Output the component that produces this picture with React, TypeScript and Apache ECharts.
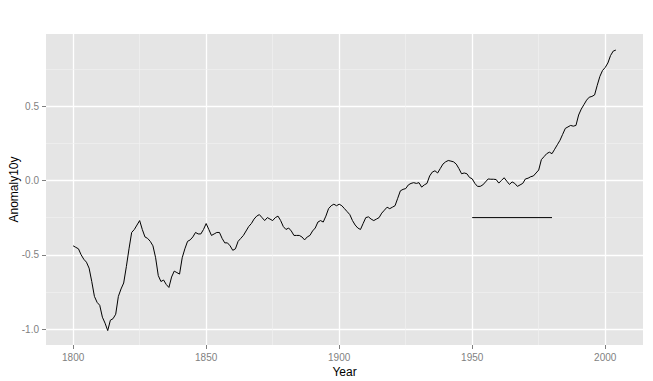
import React, { useEffect, useRef } from "react";
import * as echarts from "echarts";

const startYear = 1800;
const anomaly10y: number[] = [
  -0.44, -0.45, -0.46, -0.5, -0.53, -0.55, -0.59, -0.68, -0.78, -0.82,
  -0.84, -0.92, -0.96, -1.01, -0.94, -0.93, -0.9, -0.78, -0.73, -0.69,
  -0.58, -0.46, -0.35, -0.33, -0.3, -0.27, -0.33, -0.38, -0.39, -0.41,
  -0.44, -0.52, -0.64, -0.68, -0.67, -0.7, -0.72, -0.65, -0.61, -0.62,
  -0.63, -0.52, -0.46, -0.41, -0.4, -0.38, -0.35, -0.36, -0.36, -0.33,
  -0.29, -0.33, -0.37, -0.36, -0.35, -0.35, -0.39, -0.42, -0.42, -0.44,
  -0.47, -0.46, -0.41, -0.39, -0.37, -0.34, -0.31, -0.29, -0.26, -0.24,
  -0.23, -0.25, -0.27, -0.25, -0.26, -0.27, -0.25, -0.24, -0.27, -0.31,
  -0.33, -0.32, -0.34, -0.37, -0.37, -0.37, -0.38, -0.4, -0.38, -0.37,
  -0.34, -0.32, -0.28, -0.27, -0.28, -0.24, -0.19, -0.17, -0.16, -0.17,
  -0.16, -0.17, -0.19, -0.21, -0.23, -0.27, -0.3, -0.32, -0.33, -0.29,
  -0.25, -0.245, -0.26, -0.27, -0.26, -0.25, -0.22, -0.2, -0.18, -0.19,
  -0.18, -0.17, -0.12, -0.07, -0.06, -0.055, -0.03, -0.02, -0.015, -0.02,
  -0.015, -0.045, -0.03, -0.02, 0.03, 0.056, 0.065, 0.05, 0.08, 0.11,
  0.125, 0.134, 0.13, 0.125, 0.11, 0.08, 0.045, 0.05, 0.045, 0.02,
  0.011, -0.02, -0.04, -0.04, -0.03, -0.01, 0.01, 0.008, 0.008, 0.006,
  -0.018, 0.0, 0.018, -0.005, -0.027, -0.01, -0.02, -0.04, -0.03, -0.02,
  0.01, 0.015, 0.025, 0.03, 0.05, 0.07, 0.14, 0.16, 0.18, 0.19,
  0.18, 0.21, 0.24, 0.27, 0.31, 0.35, 0.36, 0.37, 0.365, 0.37,
  0.44, 0.48, 0.51, 0.54, 0.56, 0.565, 0.575, 0.64, 0.7, 0.74,
  0.76, 0.79, 0.84, 0.87, 0.877,
];

const baselineYears = [1950, 1980];
const baselineValue = -0.25;

const xMajorTicks = [1800, 1850, 1900, 1950, 2000];
const xMinorTicks = [1825, 1875, 1925, 1975];
const yMajorTicks = [-1.0, -0.5, 0.0, 0.5];
const yMinorTicks = [-0.75, -0.25, 0.25, 0.75];

const xRange = [1789.8, 2014.2];
const yRange = [-1.107, 0.985];

export default function App() {
  const ref = useRef<HTMLDivElement>(null);
  useEffect(() => {
    if (!ref.current) return;
    const chart = echarts.init(ref.current, undefined, { renderer: "svg" });
    const lineData = anomaly10y.map((v, i) => [startYear + i, v]);
    const baseData = baselineYears.map((y) => [y, baselineValue]);
    const minorLines = [
      ...xMinorTicks.map((x) => ({ xAxis: x })),
      ...yMinorTicks.map((y) => ({ yAxis: y })),
    ];
    const font = "'Liberation Sans', Arial, sans-serif";
    chart.setOption({
      animation: false,
      grid: {
        left: 46,
        top: 34,
        right: 10,
        bottom: 36,
        show: true,
        backgroundColor: "#E5E5E5",
        borderWidth: 0,
        containLabel: false,
        outerBoundsMode: "none",
      },
      xAxis: {
        type: "value",
        min: xRange[0],
        max: xRange[1],
        name: "Year",
        nameLocation: "middle",
        nameGap: 21,
        nameMoveOverlap: false,
        nameTextStyle: { color: "#000", fontSize: 12, fontFamily: font },
        axisLine: { show: false, onZero: false },
        axisTick: {
          show: true,
          length: 4,
          customValues: xMajorTicks,
          lineStyle: { color: "#7F7F7F", width: 1 },
        },
        axisLabel: {
          customValues: xMajorTicks,
          color: "#7F7F7F",
          fontSize: 10,
          fontFamily: font,
          margin: 7,
          formatter: (v: number) => String(Math.round(v)),
        },
        splitLine: { show: true, lineStyle: { color: "#FFFFFF", width: 1.3 } },
      },
      yAxis: {
        type: "value",
        min: yRange[0],
        max: yRange[1],
        name: "Anomaly10y",
        nameLocation: "middle",
        nameRotate: 90,
        nameGap: 26,
        nameMoveOverlap: false,
        nameTextStyle: { color: "#000", fontSize: 12, fontFamily: font },
        axisLine: { show: false, onZero: false },
        axisTick: {
          show: true,
          length: 4,
          customValues: yMajorTicks,
          lineStyle: { color: "#7F7F7F", width: 1 },
        },
        axisLabel: {
          customValues: yMajorTicks,
          color: "#7F7F7F",
          fontSize: 10,
          fontFamily: font,
          margin: 7,
          formatter: (v: number) => v.toFixed(1),
        },
        splitLine: { show: true, lineStyle: { color: "#FFFFFF", width: 1.3 } },
      },
      series: [
        {
          type: "line",
          data: [],
          silent: true,
          z: 1,
          markLine: {
            silent: true,
            z: 1,
            symbol: "none",
            label: { show: false },
            lineStyle: { color: "#F2F2F2", width: 0.6, type: "solid" },
            data: minorLines,
          },
        },
        {
          type: "line",
          data: lineData,
          showSymbol: false,
          symbol: "none",
          lineStyle: { color: "#000000", width: 1 },
          z: 3,
        },
        {
          type: "line",
          data: baseData,
          showSymbol: false,
          symbol: "none",
          lineStyle: { color: "#000000", width: 1 },
          z: 3,
        },
      ],
    });
    return () => chart.dispose();
  }, []);
  return <div ref={ref} style={{ width: 653, height: 381, position: "absolute", left: 0, top: 0 }} />;
}
